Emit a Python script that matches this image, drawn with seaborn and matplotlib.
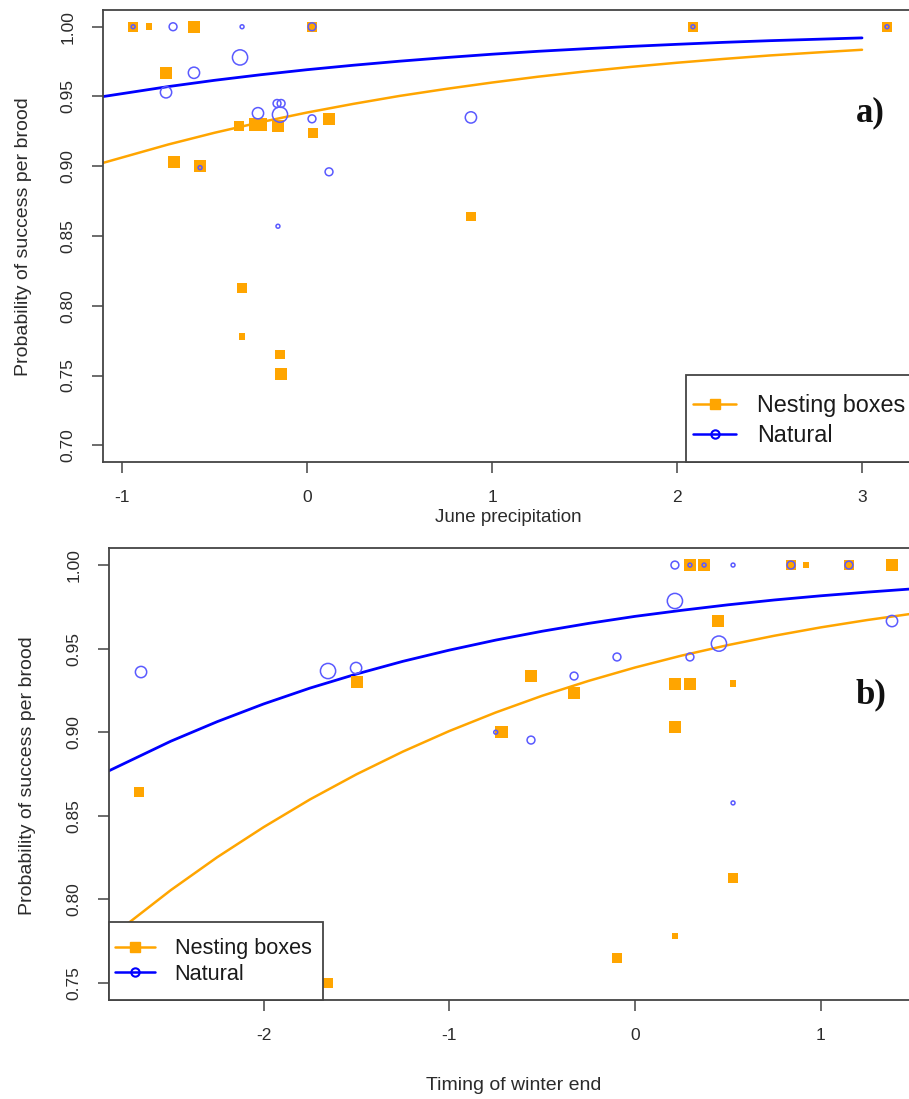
import numpy as np
import pandas as pd
import matplotlib
matplotlib.use("Agg")
import matplotlib.pyplot as plt
from matplotlib.lines import Line2D
from matplotlib.patches import Rectangle
import seaborn as sns

# ---------------- data: panel a) June precipitation ----------------
a_box_x = [-0.94, -0.854, -0.611, 0.027, 2.086, 3.135, -0.762, -0.368, -0.28, -0.25,
           -0.157, 0.032, 0.119, -0.719, -0.578, 0.886, -0.351, -0.351, -0.146, -0.14]
a_box_y = [1.000, 1.000, 1.000, 1.000, 1.000, 1.000, 0.967, 0.929, 0.930, 0.930,
           0.929, 0.924, 0.934, 0.903, 0.900, 0.864, 0.813, 0.778, 0.765, 0.751]
a_box_n = [2, 1, 3, 2, 2, 2, 3, 2, 3, 3, 3, 2, 3, 3, 3, 2, 2, 1, 2, 3]

a_nat_x = [-0.94, -0.724, -0.351, 0.027, 2.086, 3.135, -0.362, -0.611, -0.762, -0.162,
           -0.14, -0.265, -0.146, 0.027, 0.886, 0.119, -0.157, -0.578]
a_nat_y = [1.000, 1.000, 1.000, 1.000, 1.000, 1.000, 0.978, 0.967, 0.953, 0.945,
           0.945, 0.938, 0.937, 0.934, 0.935, 0.896, 0.857, 0.899]
a_nat_n = [1, 2, 1, 2, 1, 1, 4, 3, 3, 2, 2, 3, 4, 2, 3, 2, 1, 1]

a_fit_x = [-1.1, -0.75, -0.5, -0.25, 0.0, 0.25, 0.5, 0.75, 1.0, 1.25, 1.5,
           1.75, 2.0, 2.25, 2.5, 2.75, 3.0]
a_fit_box = [0.9025, 0.9156, 0.9240, 0.9316, 0.9385, 0.9447, 0.9504, 0.9554, 0.9600,
             0.9642, 0.9679, 0.9712, 0.9742, 0.9769, 0.9794, 0.9815, 0.9835]
a_fit_nat = [0.9500, 0.9571, 0.9616, 0.9656, 0.9692, 0.9724, 0.9753, 0.9779, 0.9803,
             0.9824, 0.9842, 0.9859, 0.9874, 0.9888, 0.9900, 0.9910, 0.9920]

# ---------------- data: panel b) Timing of winter end ----------------
b_box_x = [0.296, 0.372, 0.84, 0.92, 1.152, 1.384, 0.447, -0.56, -0.328, 0.215,
           0.296, 0.528, -0.72, 0.215, -1.497, -2.67, -1.653, 0.528, 0.215, -0.097]
b_box_y = [1.000, 1.000, 1.000, 1.000, 1.000, 1.000, 0.9665, 0.9336, 0.9234, 0.929,
           0.929, 0.929, 0.900, 0.903, 0.930, 0.864, 0.750, 0.8128, 0.778, 0.765]
b_box_n = [3, 3, 2, 1, 2, 3, 3, 3, 3, 3, 3, 1, 3, 3, 3, 2, 2, 2, 1, 2]

b_nat_x = [0.215, 0.296, 0.372, 0.528, 0.84, 1.152, 0.215, 0.452, 1.384, -0.097,
           0.296, -0.328, -0.56, 0.528, -2.66, -1.653, -1.502, -0.75]
b_nat_y = [1.000, 1.000, 1.000, 1.000, 1.000, 1.000, 0.9785, 0.953, 0.9665, 0.945,
           0.945, 0.9336, 0.8953, 0.8577, 0.936, 0.9366, 0.9384, 0.900]
b_nat_n = [2, 1, 1, 1, 2, 2, 4, 4, 3, 2, 2, 2, 2, 1, 3, 4, 3, 1]

b_fit_x = [-2.85, -2.5, -2.25, -2.0, -1.75, -1.5, -1.25, -1.0, -0.75, -0.5, -0.25,
           0.0, 0.25, 0.5, 0.75, 1.0, 1.25, 1.5, 1.6]
b_fit_box = [0.7753, 0.8055, 0.8252, 0.8432, 0.8598, 0.8748, 0.8884, 0.9007, 0.9118,
             0.9218, 0.9307, 0.9387, 0.9458, 0.9521, 0.9577, 0.9627, 0.9671, 0.9710,
             0.9725]
b_fit_nat = [0.8760, 0.8946, 0.9063, 0.9169, 0.9264, 0.9348, 0.9424, 0.9491, 0.9551,
             0.9604, 0.9651, 0.9693, 0.9729, 0.9762, 0.9791, 0.9816, 0.9838, 0.9858,
             0.9865]

y_ticks_a = [0.70, 0.75, 0.80, 0.85, 0.90, 0.95, 1.00]
y_ticks_b = [0.75, 0.80, 0.85, 0.90, 0.95, 1.00]
x_ticks_a = [-1, 0, 1, 2, 3]
x_ticks_b = [-2, -1, 0, 1]
legend_labels = ["Nesting boxes", "Natural"]
ylabel = "Probability of success per brood"

# ---------------- style ----------------
sns.set_style("white")
plt.rcParams["font.family"] = ["Liberation Sans", "DejaVu Sans"]

ORANGE = "#FFA500"
BLUE = "#0000FF"
CIRC = "#5a5aff"
SPINE = "#444444"
TXT = "#2b2b2b"

W, H = 909, 1099
fig = plt.figure(figsize=(W / 100, H / 100), dpi=100)


def px_axes(l, t, r, b):
    return fig.add_axes([l / W, 1 - b / H, (r - l) / W, (b - t) / H])


box_sizes = {1: 22, 2: 50, 3: 80}
nat_sizes = {1: 8, 2: 32, 3: 66, 4: 120}


def panel(ax, bx, by, bn, nx, ny, nn, fx, fbox, fnat, xlim, ylim, xt, yt, tick_fs):
    dfl = pd.DataFrame({"x": fx, "box": fbox, "nat": fnat})
    sns.lineplot(data=dfl, x="x", y="box", ax=ax, color=ORANGE, lw=1.8, zorder=2)
    sns.lineplot(data=dfl, x="x", y="nat", ax=ax, color=BLUE, lw=2.0, zorder=2)
    dfb = pd.DataFrame({"x": bx, "y": by, "n": bn})
    sns.scatterplot(data=dfb, x="x", y="y", size="n", sizes=box_sizes, marker="s",
                    color=ORANGE, edgecolor="none", linewidth=0, ax=ax,
                    legend=False, zorder=3)
    dfn = pd.DataFrame({"x": nx, "y": ny, "n": nn})
    sns.scatterplot(data=dfn, x="x", y="y", size="n", sizes=nat_sizes, marker="o",
                    facecolor="none", edgecolor=CIRC, linewidth=1.1, ax=ax,
                    legend=False, zorder=4)
    ax.set_xlim(*xlim)
    ax.set_ylim(*ylim)
    ax.set_xticks(xt)
    ax.set_xticklabels([f"{v:d}" for v in xt])
    ax.set_yticks(yt)
    ax.set_yticklabels([f"{v:.2f}" for v in yt], rotation=90, va="center")
    ax.tick_params(axis="both", direction="out", length=8, width=1.1,
                   color=SPINE, labelcolor=TXT, labelsize=tick_fs, pad=12,
                   bottom=True, left=True)
    for s in ax.spines.values():
        s.set_color(SPINE)
        s.set_linewidth(1.3)
    ax.set_xlabel("")
    ax.set_ylabel("")


# top panel
ax1 = px_axes(103, 10, 919, 462)
panel(ax1, a_box_x, a_box_y, a_box_n, a_nat_x, a_nat_y, a_nat_n,
      a_fit_x, a_fit_box, a_fit_nat, (-1.1027, 3.308), (0.688, 1.012),
      x_ticks_a, y_ticks_a, 12.5)

# bottom panel
ax2 = px_axes(109, 548, 925, 1000)
panel(ax2, b_box_x, b_box_y, b_box_n, b_nat_x, b_nat_y, b_nat_n,
      b_fit_x, b_fit_box, b_fit_nat, (-2.8325, 1.5617), (0.7398, 1.0102),
      x_ticks_b, y_ticks_b, 12.5)

# axis titles
fig.text(508 / W, 1 - 518 / H, "June precipitation", ha="center", va="center",
         fontsize=13.5, color=TXT)
fig.text(514 / W, 1 - 1085 / H, "Timing of winter end", ha="center", va="center",
         fontsize=14, color=TXT)
fig.text(24 / W, 1 - 237 / H, ylabel, rotation=90, ha="center", va="center",
         fontsize=14, color=TXT)
fig.text(28 / W, 1 - 776 / H, ylabel, rotation=90, ha="center", va="center",
         fontsize=14, color=TXT)

# panel tags
fig.text(870 / W, 1 - 113 / H, "a)", ha="center", va="center", fontsize=25,
         fontweight="bold", family=["Liberation Serif", "DejaVu Serif"], color="#111111")
fig.text(871 / W, 1 - 695 / H, "b)", ha="center", va="center", fontsize=25,
         fontweight="bold", family=["Liberation Serif", "DejaVu Serif"], color="#111111")

# legends
handles = [Line2D([0], [0], color=ORANGE, lw=1.8, marker="s", markersize=7,
                  markerfacecolor=ORANGE, markeredgecolor=ORANGE),
           Line2D([0], [0], color=BLUE, lw=1.8, marker="o", markersize=6,
                  markerfacecolor="none", markeredgecolor=BLUE, markeredgewidth=1.5)]


def legend_box(l, t, r, b, x_handle, y_first, fs, spacing):
    rect = Rectangle((l / W, 1 - b / H), (r - l) / W, (b - t) / H,
                     transform=fig.transFigure, facecolor="white",
                     edgecolor=SPINE, linewidth=1.3, zorder=10)
    fig.patches.append(rect)
    leg = fig.legend(handles, legend_labels, loc="upper left",
                     bbox_to_anchor=(x_handle / W, 1 - (y_first - fs * 0.55) / H),
                     frameon=False, fontsize=fs, handlelength=1.85,
                     handletextpad=0.9, labelspacing=spacing, borderpad=0,
                     borderaxespad=0)
    for t_ in leg.get_texts():
        t_.set_color("#1a1a1a")
    leg.set_zorder(11)


legend_box(686, 375, 925, 462, 693, 403, 16.8, 0.33)
legend_box(109, 922, 323, 1000, 115, 947, 15.6, 0.2)

fig.savefig("out.png", dpi=100, facecolor="white")
